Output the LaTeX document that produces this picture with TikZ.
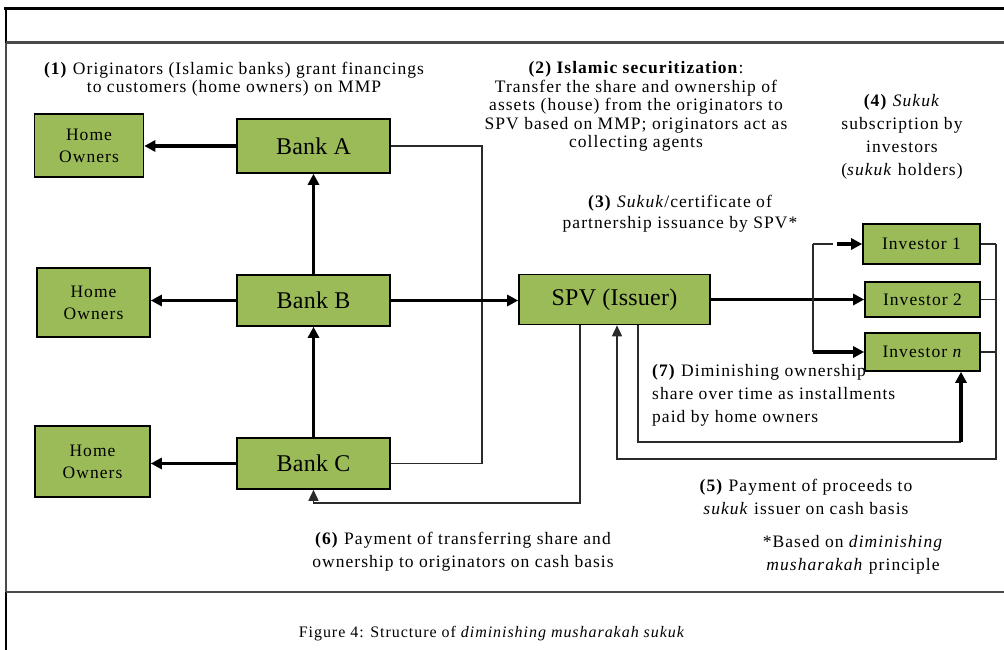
\documentclass[tikz,border=0pt]{standalone}
\usepackage{fontspec}
\setmainfont{Liberation Serif}[LetterSpace=6]
\usetikzlibrary{arrows.meta}
\definecolor{boxgreen}{HTML}{9BBB59}
\definecolor{framegrey}{HTML}{4A4A4A}
\definecolor{thinline}{HTML}{2A2A2A}
\tikzset{
  box/.style={draw=black, line width=1.6pt, fill=boxgreen, inner sep=0pt, align=center},
  homebox/.style={box, font=\fontsize{17.5}{22}\selectfont},
  bankbox/.style={box, font=\fontsize{24}{28}\selectfont\addfontfeatures{LetterSpace=1}},
  invbox/.style={box, font=\fontsize{17.5}{20}\selectfont},
  flow/.style={line width=3.4pt, -{Triangle[length=11pt,width=11pt]}},
  thinpath/.style={draw=thinline, line width=1.6pt},
  thinflow/.style={thinpath, -{Triangle[length=11pt,width=10pt]}},
  note/.style={align=center, inner sep=0pt, font=\fontsize{17.5}{18.5}\selectfont},
  widenote/.style={align=center, inner sep=0pt, font=\fontsize{17.5}{23}\selectfont},
}
\begin{document}
\begin{tikzpicture}[x=1pt,y=-1pt]
\useasboundingbox (0,0) rectangle (1004,650);

% page frame
\draw[black, line width=3pt] (4,9) -- (1004,9);
\draw[black, line width=2.5pt] (6,9) -- (6,43);
\draw[framegrey, line width=2.5pt] (6,43) -- (6,592);
\draw[black, line width=2.5pt] (6,592) -- (6,650);
\draw[framegrey, line width=3pt] (6,43) -- (1004,43);
\draw[framegrey, line width=2.5pt] (6,592) -- (1004,592);

% boxes
\node[homebox, minimum width=109pt, minimum height=63pt] (ho1) at (89,145.5) {Home\\Owners};
\node[homebox, minimum width=113pt, minimum height=69pt] (ho2) at (93.5,302.5) {Home\\Owners};
\node[homebox, minimum width=115pt, minimum height=71pt] (ho3) at (92.5,461.5) {Home\\Owners};
\node[bankbox, minimum width=153pt, minimum height=54pt] (bankA) at (313.5,146) {Bank A};
\node[bankbox, minimum width=153pt, minimum height=51pt] (bankB) at (313.5,300.5) {Bank B};
\node[bankbox, minimum width=153pt, minimum height=51pt] (bankC) at (313.5,463.5) {Bank C};
\node[bankbox, minimum width=191pt, minimum height=50pt] (spv) at (614.5,299.5) {SPV (Issuer)};
\node[invbox, minimum width=117pt, minimum height=40pt] (inv1) at (921.5,244) {Investor 1};
\node[invbox, minimum width=115pt, minimum height=35pt] (inv2) at (922.5,299.5) {Investor 2};
\node[invbox, minimum width=115pt, minimum height=38pt] (invn) at (922.5,352) {Investor \textit{n}};

% helper coordinates for routed connectors
\coordinate (loopR) at (482,0);
\coordinate (branch) at (813,0);
\coordinate (rightR) at (996,0);
\coordinate (pay5) at (617,459);
\coordinate (pay7) at (638,442);
\coordinate (pay7up) at (961,442);
\coordinate (pay6) at (580,503);
\coordinate (pay6end) at (313.5,503);

% (1) financing from banks to home owners
\draw[flow] (bankA.west) -- (bankA.west -| ho1.east);
\draw[flow] (bankB.west) -- (bankB.west -| ho2.east);
\draw[flow] (bankC.west) -- (bankC.west -| ho3.east);
\draw[flow] (bankB.north) -- (bankA.south);
\draw[flow] (bankC.north) -- (bankB.south);

% (2) banks linked to the SPV
\draw[thinpath] (bankA.east) -- (bankA.east -| loopR) -- (bankC.east -| loopR) -- (bankC.east);
\draw[flow] (bankB.east) -- (bankB.east -| spv.west);

% (4) sukuk to investors
\draw[flow] (spv.east) -- (inv2.west);
\draw[thinpath] (branch |- inv1.west) -- (branch |- invn.west);
\draw[thinpath] (branch |- inv1.west) -- ++(20,0);
\draw[flow] ([xshift=24pt]branch |- inv1.west) -- (inv1.west);
\draw[flow] (branch |- invn.west) -- (invn.west);

% (5) proceeds back to the issuer
\draw[thinpath] (inv1.east) -- (inv1.east -| rightR);
\draw[thinpath] (inv2.east) -- (inv2.east -| rightR);
\draw[thinpath] (invn.east) -- (invn.east -| rightR);
\draw[thinflow] (inv1.east -| rightR) -- (pay5 -| rightR) -- (pay5) -- (pay5 |- spv.south);

% (7) diminishing ownership
\draw[thinpath] (pay7 |- spv.south) -- (pay7) -- (pay7up);
\draw[flow] (pay7up) -- (pay7up |- invn.south);

% (6) payment to originators
\draw[thinflow] (pay6 |- spv.south) -- (pay6) -- (pay6end) -- (bankC.south);

% labels
\node[note] (t1) at (234,79) {\textbf{(1)} Originators (Islamic banks) grant financings\\to customers (home owners) on MMP};
\node[note] (t2) at (636,106.5) {\textbf{(2) Islamic securitization}:\\Transfer the share and ownership of\\assets (house) from the originators to\\SPV based on MMP; originators act as\\collecting agents};
\node[widenote, font=\fontsize{17.5}{21}\selectfont] (t3) at (680,213.5) {\textbf{(3)} \textit{Sukuk}/certificate of\\partnership issuance by SPV*};
\node[widenote] (t4) at (902,137) {\textbf{(4)} \textit{Sukuk}\\subscription by\\investors\\(\textit{sukuk} holders)};
\node[widenote, align=left, anchor=west] (t7) at (652,395.5) {\textbf{(7)} Diminishing ownership\\share over time as installments\\paid by home owners};
\node[widenote] (t5) at (806,496.5) {\textbf{(5)} Payment of proceeds to\\\textit{sukuk} issuer on cash basis};
\node[widenote] (t6) at (463,551.5) {\textbf{(6)} Payment of transferring share and\\ownership to originators on cash basis};
\node[widenote] (tstar) at (853,555) {*Based on \textit{diminishing}\\\textit{musharakah} principle};
\node[inner sep=0pt, font=\fontsize{16}{18}\selectfont] (cap) at (492,634) {Figure 4: Structure of \textit{diminishing musharakah sukuk}};
\end{tikzpicture}
\end{document}
